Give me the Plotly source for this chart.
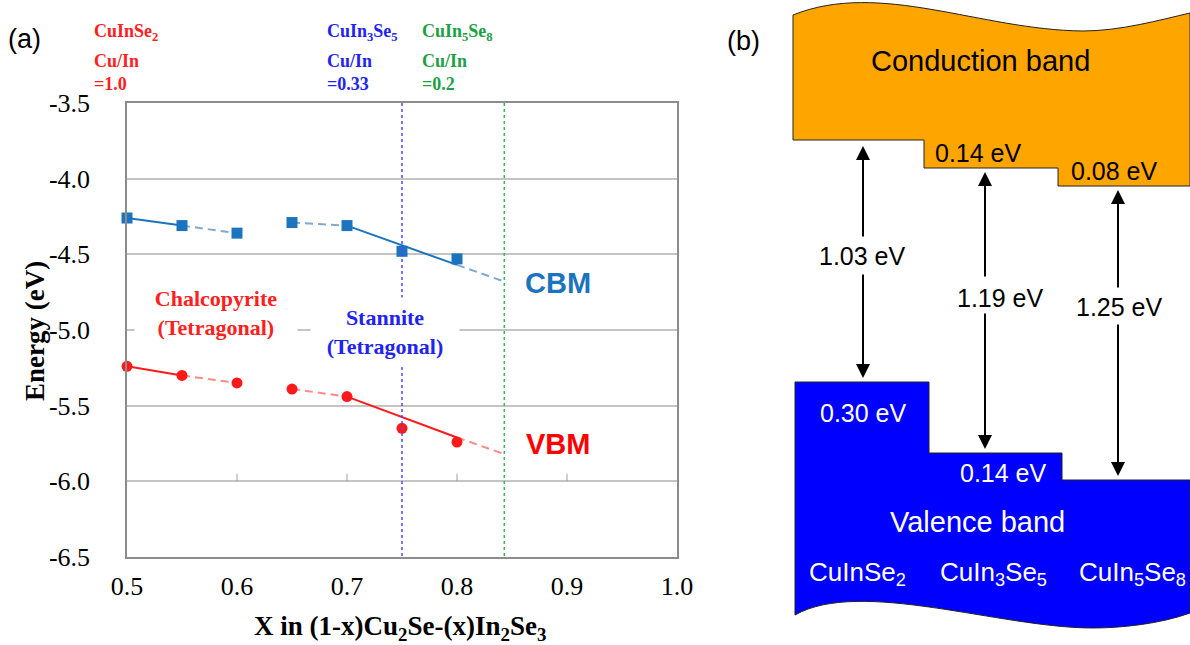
import plotly.graph_objects as go

# ---------------- Panel (a) data ----------------
x_vals = [0.50, 0.55, 0.60, 0.65, 0.70, 0.75, 0.80]
cbm = [-4.26, -4.31, -4.36, -4.29, -4.31, -4.48, -4.53]
vbm = [-5.24, -5.30, -5.35, -5.39, -5.44, -5.65, -5.74]

# trend-line segments
cbm_solid1_x, cbm_solid1_y = [0.50, 0.55], [-4.26, -4.31]
cbm_dash1_x, cbm_dash1_y = [0.55, 0.60], [-4.31, -4.36]
cbm_dash2_x, cbm_dash2_y = [0.65, 0.70], [-4.29, -4.31]
cbm_fit_x, cbm_fit_y = [0.70, 0.80], [-4.31, -4.57]
cbm_ext_x, cbm_ext_y = [0.80, 0.843], [-4.57, -4.68]

vbm_solid1_x, vbm_solid1_y = [0.50, 0.55], [-5.24, -5.30]
vbm_dash1_x, vbm_dash1_y = [0.55, 0.60], [-5.30, -5.35]
vbm_dash2_x, vbm_dash2_y = [0.65, 0.70], [-5.39, -5.44]
vbm_fit_x, vbm_fit_y = [0.70, 0.80], [-5.44, -5.71]
vbm_ext_x, vbm_ext_y = [0.80, 0.843], [-5.71, -5.82]

phase_x = [0.75, 0.843]          # CuIn3Se5, CuIn5Se8 reference lines
phase_colors = ["#4a4aff", "#3db45a"]

y_ticks = [-3.5, -4.0, -4.5, -5.0, -5.5, -6.0, -6.5]
y_ticktext = ["-3.5", "-4.0", "-4.5", "-5.0", "-5.5", "-6.0", "-6.5"]
x_ticks = [0.5, 0.6, 0.7, 0.8, 0.9, 1.0]
x_ticktext = ["0.5", "0.6", "0.7", "0.8", "0.9", "1.0"]
minor_tick_x = [0.6, 0.7, 0.8, 0.9]

CBM_C = "#1b74bd"
CBM_D = "#7fa9d2"
VBM_C = "#ff1a1a"
VBM_D = "#ff8a8a"

# ---------------- Panel (b) schematic (diagram units) ----------------
compounds = ["CuInSe<sub>2</sub>", "CuIn<sub>3</sub>Se<sub>5</sub>", "CuIn<sub>5</sub>Se<sub>8</sub>"]
compound_x = [857, 993, 1132]
cb_steps_x = [793, 924, 1058, 1190]
cb_level = [140, 168, 186]
vb_steps_x = [795, 929, 1062, 1190]
vb_level = [382, 453, 480]
cb_offsets = ["0.14 eV", "0.08 eV"]
cb_offset_pos = [(978, 153), (1114, 171)]
vb_offsets = ["0.30 eV", "0.14 eV"]
vb_offset_pos = [(863, 413), (1003, 473)]
gaps = ["1.03 eV", "1.19 eV", "1.25 eV"]
arrow_x = [863, 985, 1118]
gap_label_x = [862, 1000, 1119]
gap_label_y = [256, 298, 307]
up_tail = [238, 278, 289]
up_tip = [146, 172, 190]
down_tail = [273, 312, 323]
down_tip = [378, 449, 476]

SERIF = "Liberation Serif"
SANS = "Liberation Sans"

fig = go.Figure()

def seg(xs, ys, color, dash):
    fig.add_trace(go.Scatter(x=xs, y=ys, mode="lines",
                             line=dict(color=color, width=2, dash=dash),
                             hoverinfo="skip", xaxis="x", yaxis="y"))

seg(cbm_solid1_x, cbm_solid1_y, CBM_C, "solid")
seg(cbm_dash1_x, cbm_dash1_y, CBM_D, "8px,5px")
seg(cbm_dash2_x, cbm_dash2_y, CBM_D, "8px,5px")
seg(cbm_fit_x, cbm_fit_y, CBM_C, "solid")
seg(cbm_ext_x, cbm_ext_y, CBM_D, "8px,5px")
seg(vbm_solid1_x, vbm_solid1_y, VBM_C, "solid")
seg(vbm_dash1_x, vbm_dash1_y, VBM_D, "8px,5px")
seg(vbm_dash2_x, vbm_dash2_y, VBM_D, "8px,5px")
seg(vbm_fit_x, vbm_fit_y, VBM_C, "solid")
seg(vbm_ext_x, vbm_ext_y, VBM_D, "8px,5px")

fig.add_trace(go.Scatter(x=x_vals, y=cbm, mode="markers",
                         marker=dict(symbol="square", size=11, color=CBM_C),
                         xaxis="x", yaxis="y", cliponaxis=False))
fig.add_trace(go.Scatter(x=x_vals, y=vbm, mode="markers",
                         marker=dict(symbol="circle", size=11, color=VBM_C),
                         xaxis="x", yaxis="y", cliponaxis=False))

shapes = []
for px, pc in zip(phase_x, phase_colors):
    shapes.append(dict(type="line", xref="x", yref="y", x0=px, x1=px,
                       y0=y_ticks[0], y1=y_ticks[-1],
                       line=dict(color=pc, width=1.5, dash="dot"), layer="above"))
for mx in minor_tick_x:
    shapes.append(dict(type="line", xref="x", yref="y", x0=mx, x1=mx,
                       y0=-6.0, y1=-5.95, line=dict(color="#a0a0a0", width=1)))

# conduction band polygon (panel b)
cb_path = (f"M {cb_steps_x[0]} {cb_level[0]} L {cb_steps_x[0]} 15 "
           f"C 880 -20, 980 30, 1083 31 C 1120 31, 1160 20, {cb_steps_x[3]} 13 "
           f"L {cb_steps_x[3]} {cb_level[2]} L {cb_steps_x[2]} {cb_level[2]} "
           f"L {cb_steps_x[2]} {cb_level[1]} L {cb_steps_x[1]} {cb_level[1]} "
           f"L {cb_steps_x[1]} {cb_level[0]} Z")
shapes.append(dict(type="path", xref="x2", yref="y2", path=cb_path,
                   fillcolor="#ffa500", line=dict(color="#222", width=1)))
vb_path = (f"M {vb_steps_x[0]} {vb_level[0]} L {vb_steps_x[1]} {vb_level[0]} "
           f"L {vb_steps_x[1]} {vb_level[1]} L {vb_steps_x[2]} {vb_level[1]} "
           f"L {vb_steps_x[2]} {vb_level[2]} L {vb_steps_x[3]} {vb_level[2]} "
           f"L {vb_steps_x[3]} 613 C 1160 624, 1120 628, 1093 628 "
           f"C 1000 628, 860 578, {vb_steps_x[0]} 615 Z")
shapes.append(dict(type="path", xref="x2", yref="y2", path=vb_path,
                   fillcolor="#0000ff", line=dict(color="#222", width=1)))

ann = []

def paper_text(px, py, text, font, xanchor="center", **kw):
    ann.append(dict(x=px/1190, y=1-py/645, xref="paper", yref="paper", text=text,
                    xanchor=xanchor, yanchor="middle", showarrow=False, font=font, **kw))

# panel labels
paper_text(24, 39, "(a)", dict(family=SANS, size=27, color="black"))
paper_text(743, 41, "(b)", dict(family=SANS, size=27, color="black"))

# top composition labels
top_labels = [
    (92, "#ff2020", ["CuInSe<sub>2</sub>", "Cu/In", "=1.0"]),
    (325, "#2323f0", ["CuIn<sub>3</sub>Se<sub>5</sub>", "Cu/In", "=0.33"]),
    (420, "#20a045", ["CuIn<sub>5</sub>Se<sub>8</sub>", "Cu/In", "=0.2"]),
]
line_y = [33, 61, 84]
for lx, col, lines in top_labels:
    for t, ly in zip(lines, line_y):
        paper_text(lx, ly, t, dict(family=SERIF, size=18, color=col, weight="bold"),
                   xanchor="left")

# in-plot labels
ann.append(dict(x=0.581, y=-4.89, xref="x", yref="y",
                text="Chalcopyrite<br>(Tetragonal)", showarrow=False,
                bgcolor="white", width=160, height=58,
                font=dict(family=SERIF, size=22, color="#ff2020", weight="bold")))
ann.append(dict(x=0.7345, y=-5.01, xref="x", yref="y",
                text="Stannite<br>(Tetragonal)", showarrow=False,
                bgcolor="white", width=146, height=66,
                font=dict(family=SERIF, size=22, color="#2323f0", weight="bold")))
ann.append(dict(x=0.892, y=-4.69, xref="x", yref="y", text="CBM", showarrow=False,
                font=dict(family=SANS, size=29, color=CBM_C, weight="bold")))
ann.append(dict(x=0.892, y=-5.75, xref="x", yref="y", text="VBM", showarrow=False,
                font=dict(family=SANS, size=29, color="#ff0000", weight="bold")))

# axis titles
paper_text(35, 331, "Energy (eV)",
           dict(family=SERIF, size=27, color="black", weight="bold"), textangle=-90)
paper_text(400, 628, "X in (1-x)Cu<sub>2</sub>Se-(x)In<sub>2</sub>Se<sub>3</sub>",
           dict(family=SERIF, size=27, color="black", weight="bold"))

# panel (b) texts
ann.append(dict(x=980, y=61, xref="x2", yref="y2", text="Conduction band",
                showarrow=False, font=dict(family=SANS, size=29, color="black")))
ann.append(dict(x=977, y=522, xref="x2", yref="y2", text="Valence band",
                showarrow=False, font=dict(family=SANS, size=29, color="white")))
for t, (tx, ty) in zip(cb_offsets, cb_offset_pos):
    ann.append(dict(x=tx, y=ty, xref="x2", yref="y2", text=t, showarrow=False,
                    font=dict(family=SANS, size=25, color="black")))
for t, (tx, ty) in zip(vb_offsets, vb_offset_pos):
    ann.append(dict(x=tx, y=ty, xref="x2", yref="y2", text=t, showarrow=False,
                    font=dict(family=SANS, size=25, color="white")))
for t, cx in zip(compounds, compound_x):
    ann.append(dict(x=cx, y=573, xref="x2", yref="y2", text=t, showarrow=False,
                    font=dict(family=SANS, size=26, color="white")))
for i in range(3):
    ann.append(dict(x=gap_label_x[i], y=gap_label_y[i], xref="x2", yref="y2",
                    text=gaps[i], showarrow=False,
                    font=dict(family=SANS, size=25, color="black")))
    ann.append(dict(x=arrow_x[i], y=up_tip[i], ax=arrow_x[i], ay=up_tail[i],
                    xref="x2", yref="y2", axref="x2", ayref="y2", text="",
                    showarrow=True, arrowhead=2, arrowsize=1.4, arrowwidth=2,
                    arrowcolor="black", standoff=0, startstandoff=0))
    ann.append(dict(x=arrow_x[i], y=down_tip[i], ax=arrow_x[i], ay=down_tail[i],
                    xref="x2", yref="y2", axref="x2", ayref="y2", text="",
                    showarrow=True, arrowhead=2, arrowsize=1.4, arrowwidth=2,
                    arrowcolor="black", standoff=0, startstandoff=0))

fig.update_layout(
    template="none",
    width=1190, height=645,
    margin=dict(l=0, r=0, t=0, b=0, pad=0, autoexpand=False),
    paper_bgcolor="white", plot_bgcolor="white", showlegend=False,
    xaxis=dict(domain=[127/1190, 677/1190], range=[0.5, 1.0],
               tickvals=x_ticks, ticktext=x_ticktext, showgrid=False, zeroline=False,
               showline=True, linecolor="#8c8c8c", linewidth=1.5, mirror=True,
               ticks="", ticklabelstandoff=5, automargin=False,
               tickfont=dict(family=SERIF, size=26, color="black")),
    yaxis=dict(domain=[1-557/645, 1-103/645], range=[-6.5, -3.5],
               tickvals=y_ticks, ticktext=y_ticktext, showgrid=True,
               gridcolor="#c4c4c4", gridwidth=1.5, zeroline=False,
               showline=True, linecolor="#8c8c8c", linewidth=1.5, mirror=True,
               ticks="", ticklabelstandoff=30, automargin=False,
               tickfont=dict(family=SERIF, size=26, color="black")),
    xaxis2=dict(domain=[690/1190, 1.0], range=[690, 1190], visible=False,
                anchor="y2", automargin=False),
    yaxis2=dict(domain=[0, 1], range=[645, 0], visible=False, anchor="x2",
                automargin=False),
    shapes=shapes, annotations=ann,
)

fig.write_html("out.html")
